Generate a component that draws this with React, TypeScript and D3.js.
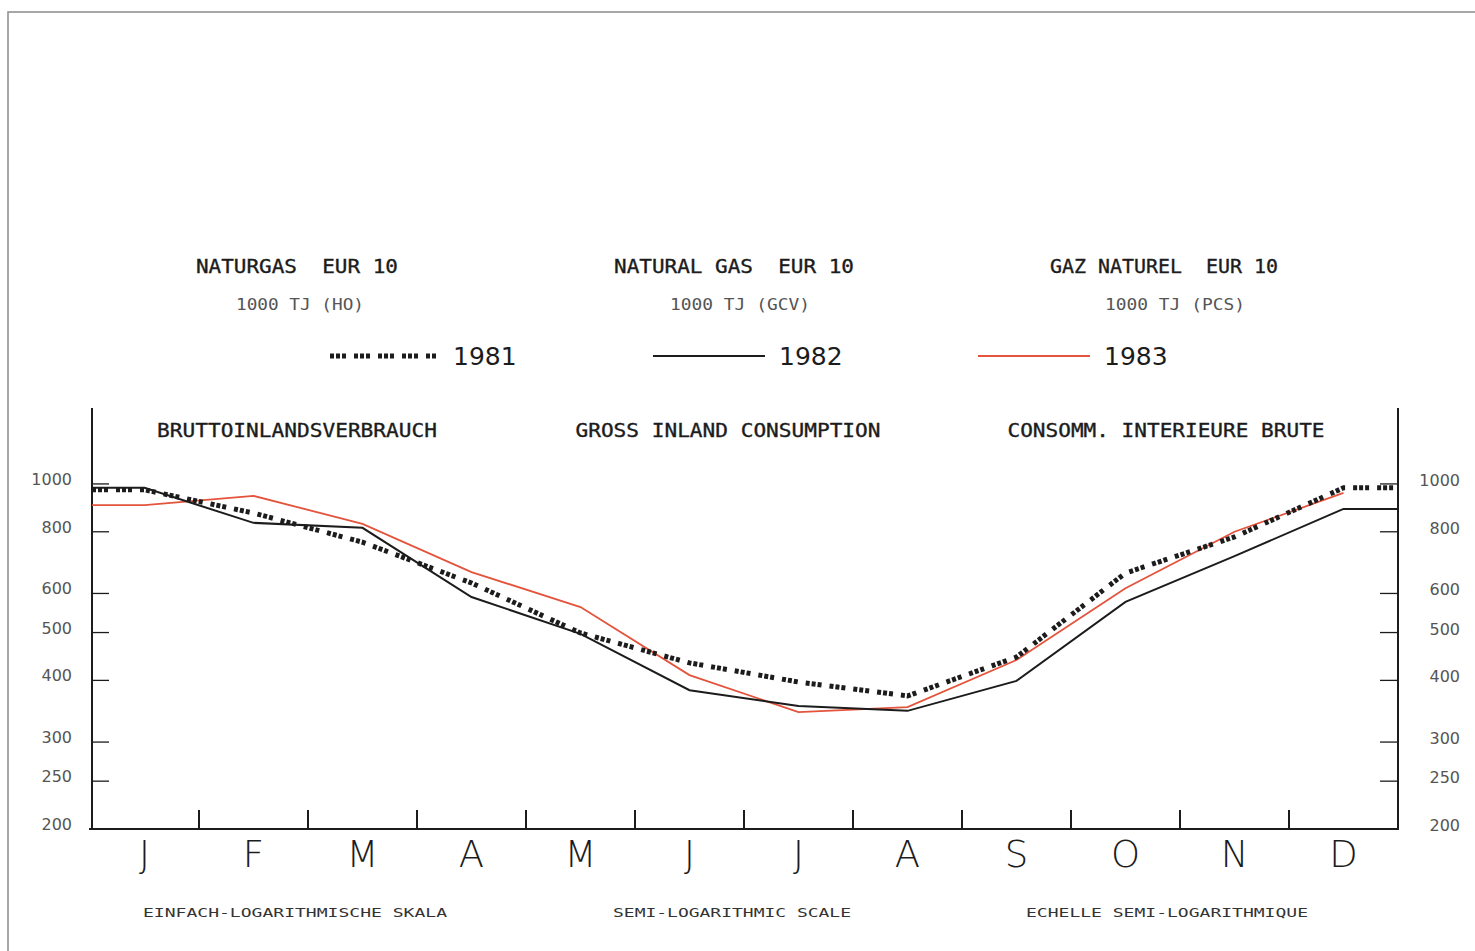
import React from "react";
import * as d3 from "d3";

// monthly values, 1000 TJ
const months = ["J", "F", "M", "A", "M", "J", "J", "A", "S", "O", "N", "D"];
const v1981 = [973, 873, 762, 630, 499, 434, 397, 372, 446, 660, 781, 982];
const v1982 = [982, 834, 815, 590, 497, 382, 355, 347, 399, 577, 714, 890];
const v1983 = [906, 946, 830, 663, 563, 410, 345, 353, 440, 615, 800, 959];
const yTicks = [200, 250, 300, 400, 500, 600, 800, 1000];

const titles = [
  { head: "NATURGAS  EUR 10", unit: "1000 TJ (HO)", sub: "BRUTTOINLANDSVERBRAUCH", foot: "EINFACH-LOGARITHMISCHE SKALA" },
  { head: "NATURAL GAS  EUR 10", unit: "1000 TJ (GCV)", sub: "GROSS INLAND CONSUMPTION", foot: "SEMI-LOGARITHMIC SCALE" },
  { head: "GAZ NATUREL  EUR 10", unit: "1000 TJ (PCS)", sub: "CONSOMM. INTERIEURE BRUTE", foot: "ECHELLE SEMI-LOGARITHMIQUE" },
];

const W = 1475;
const H = 951;
const left = 92;
const right = 1398;
const top = 408;
const bottom = 829;

const RED = "#e4533b";
const INK = "#1c1c1c";
const mono = "'DejaVu Sans Mono', monospace";
const pre = { whiteSpace: "pre" as const };

export default function App() {
  const x = d3.scaleBand<number>().domain(d3.range(12)).range([90, right]);
  const cx = (i: number) => (x(i) as number) + x.bandwidth() / 2;
  const y = d3.scaleLog().domain([200, 1425]).range([bottom, top]);

  const line = d3
    .line<[number, number]>()
    .x((d) => d[0])
    .y((d) => y(d[1]));

  const pts = (vals: number[], extL: boolean, extR: boolean) => {
    const p: [number, number][] = vals.map((v, i) => [cx(i), v]);
    if (extL) p.unshift([left, vals[0]]);
    if (extR) p.push([right, vals[vals.length - 1]]);
    return p;
  };

  const dotDash = "4,2,4,2,4,8";
  const headX = [297, 734, 1164];
  const unitX = [300, 740, 1175];
  const subX = [297, 728, 1166];
  const footX = [295, 732, 1167];
  const headW = [202, 240, 228];
  const subW = [280, 305, 317];
  const footW = [304, 238, 282];
  const unitW = [128, 140, 140];

  return (
    <svg width={W} height={H} style={{ position: "absolute", left: 0, top: 0, background: "#fff" }}>
      {/* page edge */}
      <path d={`M8,951 V12 H1475`} fill="none" stroke="#8a8a8a" strokeWidth={1.5} />

      {/* titles */}
      {titles.map((t, i) => (
        <g key={i} fill={INK}>
          <text x={headX[i]} y={273} textAnchor="middle" fontFamily={mono} fontSize={19} style={pre}
            stroke={INK} strokeWidth={0.35} textLength={headW[i]} lengthAdjust="spacingAndGlyphs">{t.head}</text>
          <text x={unitX[i]} y={310} textAnchor="middle" fontFamily={mono} fontSize={15} fill="#555" style={pre}
            textLength={unitW[i]} lengthAdjust="spacingAndGlyphs">{t.unit}</text>
          <text x={subX[i]} y={437} textAnchor="middle" fontFamily={mono} fontSize={19} style={pre}
            stroke={INK} strokeWidth={0.35} textLength={subW[i]} lengthAdjust="spacingAndGlyphs">{t.sub}</text>
          <text x={footX[i]} y={917} textAnchor="middle" fontFamily={mono} fontSize={12} fill="#333" style={pre}
            textLength={footW[i]} lengthAdjust="spacingAndGlyphs">{t.foot}</text>
        </g>
      ))}

      {/* legend */}
      <line x1={330} x2={437} y1={356} y2={356} stroke={INK} strokeWidth={5} strokeDasharray={dotDash} />
      <text x={453} y={365} fontFamily="'DejaVu Sans', sans-serif" fontSize={25} fill={INK}>1981</text>
      <line x1={653} x2={765} y1={356} y2={356} stroke={INK} strokeWidth={2} />
      <text x={779} y={365} fontFamily="'DejaVu Sans', sans-serif" fontSize={25} fill={INK}>1982</text>
      <line x1={978} x2={1090} y1={356} y2={356} stroke={RED} strokeWidth={2} />
      <text x={1104} y={365} fontFamily="'DejaVu Sans', sans-serif" fontSize={25} fill={INK}>1983</text>

      {/* axes frame */}
      <line x1={left} x2={left} y1={top} y2={bottom} stroke={INK} strokeWidth={2} />
      <line x1={right} x2={right} y1={top} y2={bottom} stroke={INK} strokeWidth={2} />
      <line x1={89} x2={right + 1} y1={bottom} y2={bottom} stroke={INK} strokeWidth={2} />

      {/* y ticks both sides */}
      {yTicks.map((t) => (
        <g key={t}>
          {t > 200 && <line x1={left} x2={left + 17} y1={y(t)} y2={y(t)} stroke={INK} strokeWidth={1.3} />}
          {t > 200 && <line x1={right - 18} x2={right} y1={y(t)} y2={y(t)} stroke={INK} strokeWidth={1.3} />}
          <text x={72} y={y(t) + 1} textAnchor="end" fontFamily="'DejaVu Sans', sans-serif" fontSize={16} fill="#555">{t}</text>
          <text x={1460} y={y(t) + 2} textAnchor="end" fontFamily="'DejaVu Sans', sans-serif" fontSize={16} fill="#555">{t}</text>
        </g>
      ))}

      {/* month boundaries and labels */}
      {months.map((m, i) => (
        <g key={i}>
          {i > 0 && <line x1={x(i)} x2={x(i)} y1={bottom} y2={bottom - 19} stroke={INK} strokeWidth={2} />}
          <text x={cx(i)} y={867} textAnchor="middle" fontFamily="'DejaVu Sans', sans-serif" fontWeight={300}
            fontSize={37} fill={INK}>{m}</text>
        </g>
      ))}

      {/* series */}
      <path d={line(pts(v1983, true, false)) as string} fill="none" stroke={RED} strokeWidth={1.8} />
      <path d={line(pts(v1982, true, true)) as string} fill="none" stroke={INK} strokeWidth={2} />
      <path d={line(pts(v1981, true, true)) as string} fill="none" stroke={INK} strokeWidth={5} strokeDasharray={dotDash} />
    </svg>
  );
}
